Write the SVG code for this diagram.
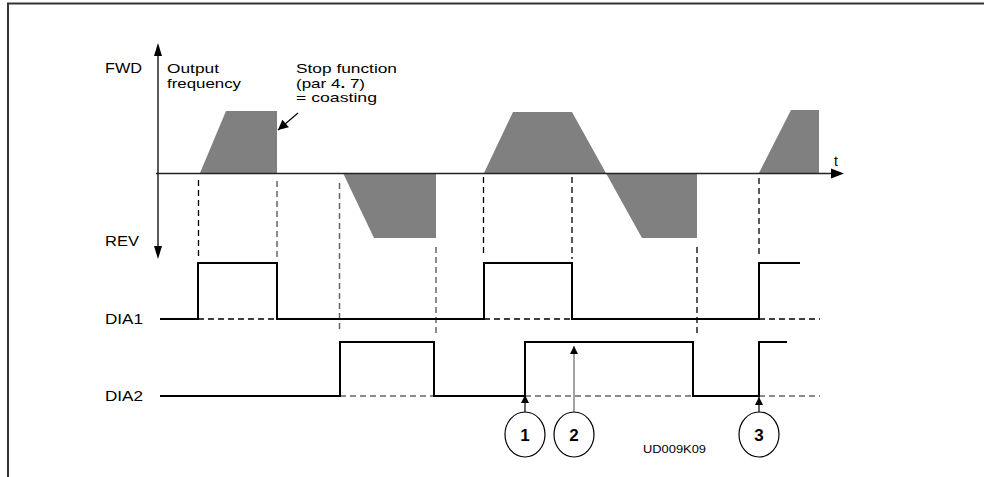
<svg xmlns="http://www.w3.org/2000/svg" width="984" height="477" viewBox="0 0 984 477">
<defs>
<style>
.t{font-family:"Liberation Sans",Arial,sans-serif;font-size:14px;fill:#000}
.t2{font-family:"Liberation Sans",Arial,sans-serif;font-size:13px;fill:#000}
.n{font-family:"Liberation Sans",Arial,sans-serif;font-size:17px;font-weight:bold;fill:#000}
.s{font-family:"Liberation Sans",Arial,sans-serif;font-size:11px;fill:#000}
.ax{stroke:#222;stroke-width:1.5;fill:none}
.fill{fill:#808080;stroke:none}
.sig{stroke:#000;stroke-width:2;fill:none}
.dk{stroke:#000;stroke-width:1.3;stroke-dasharray:6 4;fill:none}
.dg{stroke:#666;stroke-width:1.5;stroke-dasharray:6 4;fill:none}
.circ{fill:#fff;stroke:#000;stroke-width:1.2}
</style>
<marker id="ah" viewBox="0 0 10 10" refX="10" refY="5" markerWidth="8" markerHeight="8" markerUnits="userSpaceOnUse" orient="auto">
<path d="M0,0 L10,5 L0,10 Z" fill="#000"/>
</marker>
<marker id="ahb" viewBox="0 0 10 10" refX="10" refY="5" markerWidth="12" markerHeight="10" markerUnits="userSpaceOnUse" orient="auto">
<path d="M0,0 L10,5 L0,10 Z" fill="#000"/>
</marker>
</defs>
<rect width="984" height="477" fill="#fff"/>
<g id="frame">
<path d="M8,477 L8,3.5 L984,3.5" stroke="#333" stroke-width="2" fill="none"/>
</g>
<g id="waveforms">
<path class="fill" d="M200,173 L226,111 L277,111 L277,173 Z"/>
<path class="fill" d="M343,173 L374,238 L436,238 L436,173 Z"/>
<path class="fill" d="M484,173 L513,112 L572,112 L642,238 L697,238 L697,173 Z"/>
<path class="fill" d="M759,173 L791,110 L819,110 L819,173 Z"/>
</g>
<g id="axes">
<line class="ax" x1="158" y1="56" x2="158" y2="246"/>
<path d="M154,56 L158,43 L162,56 Z" fill="#000"/>
<path d="M154,246 L158,259 L162,246 Z" fill="#000"/>
<line class="ax" x1="156" y1="173.5" x2="832" y2="173.5"/>
<path d="M831,168.5 L844,173.5 L831,178.5 Z" fill="#000"/>
</g>
<g id="connectors">
<line class="dk" x1="198.5" y1="180" x2="198.5" y2="259"/>
<line class="dg" x1="277" y1="181" x2="277" y2="259"/>
<line class="dg" x1="339.5" y1="183" x2="339.5" y2="333"/>
<line class="dg" x1="436" y1="247" x2="436" y2="333"/>
<line class="dk" x1="483.5" y1="177" x2="483.5" y2="257"/>
<line class="dk" x1="572" y1="177" x2="572" y2="259"/>
<line class="dk" x1="697" y1="247" x2="697" y2="334"/>
<line class="dk" x1="759" y1="178" x2="759" y2="258"/>
<line class="dk" x1="198" y1="319" x2="277" y2="319"/>
<line class="dk" x1="484" y1="319" x2="572" y2="319"/>
<line class="dk" x1="759" y1="319" x2="820" y2="319"/>
<line class="dg" x1="340" y1="396" x2="434" y2="396"/>
<line class="dg" x1="525" y1="396" x2="693" y2="396"/>
<line class="dg" x1="759" y1="396" x2="820" y2="396"/>
<path class="sig" d="M160,319 L198,319 L198,263 L277,263 L277,319 L484,319 L484,263 L572,263 L572,319 L759,319 L759,263 L800,263"/>
<path class="sig" d="M160,396 L340,396 L340,342 L434,342 L434,396 L525,396 L525,342 L693,342 L693,396 L759,396 L759,342 L787,342"/>
<line x1="298" y1="113" x2="278" y2="130" stroke="#000" stroke-width="1.2" marker-end="url(#ahb)"/>
<line x1="525" y1="412" x2="525" y2="395" stroke="#000" stroke-width="1.2" marker-end="url(#ah)"/>
<line x1="574" y1="412" x2="574" y2="346" stroke="#666" stroke-width="1.2" marker-end="url(#ah)"/>
<line x1="759" y1="412" x2="759" y2="397" stroke="#000" stroke-width="1.2" marker-end="url(#ah)"/>
</g>
<g id="labels">
<text class="t" x="105" y="73" textLength="37" lengthAdjust="spacingAndGlyphs">FWD</text>
<text class="t2" x="167" y="73" textLength="52" lengthAdjust="spacingAndGlyphs">Output</text>
<text class="t2" x="167" y="88" textLength="74" lengthAdjust="spacingAndGlyphs">frequency</text>
<text class="t2" x="296" y="73" textLength="101" lengthAdjust="spacingAndGlyphs">Stop function</text>
<text class="t2" x="296" y="87.5" textLength="69" lengthAdjust="spacingAndGlyphs">(par 4<tspan font-weight="bold">.</tspan> 7)</text>
<text class="t2" x="296" y="102" textLength="81" lengthAdjust="spacingAndGlyphs">= coasting</text>
<text class="t" x="834" y="166" font-size="16">t</text>
<text class="t" x="105" y="246" textLength="34" lengthAdjust="spacingAndGlyphs">REV</text>
<text class="t" x="105" y="324" textLength="38" lengthAdjust="spacingAndGlyphs">DIA1</text>
<text class="t" x="105" y="401" textLength="38" lengthAdjust="spacingAndGlyphs">DIA2</text>
<text class="s" x="643" y="453" textLength="63" lengthAdjust="spacingAndGlyphs">UD009K09</text>
</g>
<g id="marker1">
<ellipse class="circ" cx="525" cy="434.5" rx="20" ry="22.5"/>
<text class="n" x="525" y="441" text-anchor="middle">1</text>
</g>
<g id="marker2">
<ellipse class="circ" cx="574" cy="434.5" rx="20" ry="22.5"/>
<text class="n" x="574" y="441" text-anchor="middle">2</text>
</g>
<g id="marker3">
<ellipse class="circ" cx="759" cy="434.5" rx="20" ry="22.5"/>
<text class="n" x="759" y="441" text-anchor="middle">3</text>
</g>
</svg>
